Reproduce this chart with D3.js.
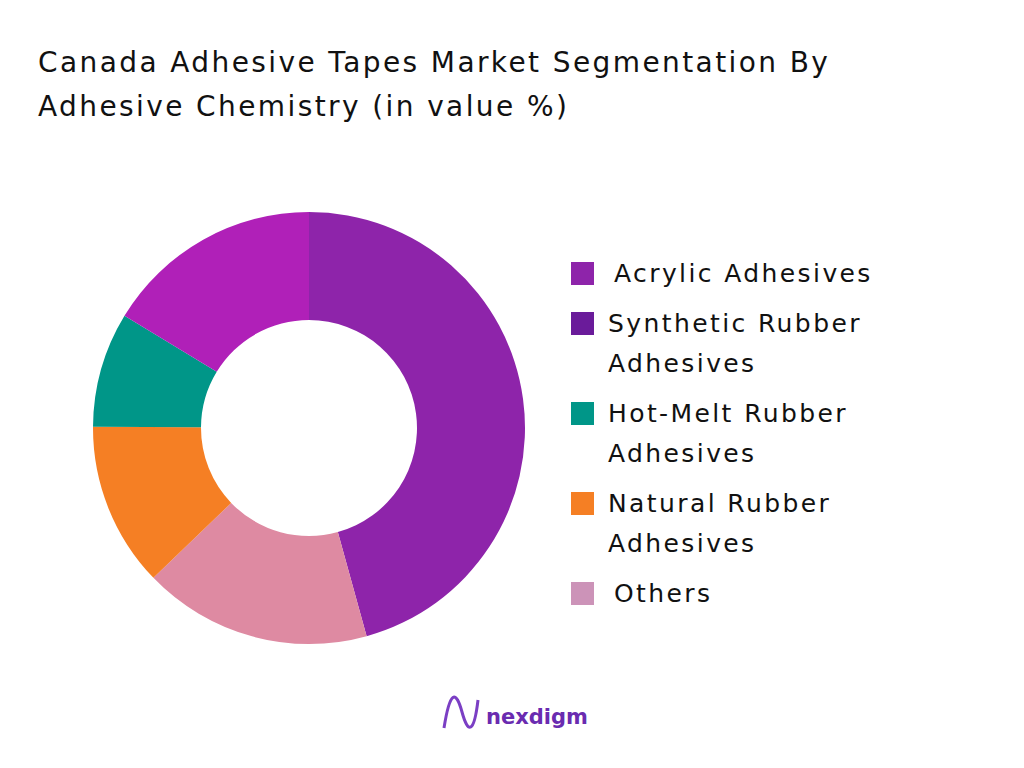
<!DOCTYPE html>
<html><head><meta charset="utf-8">
<script src="https://cdn.jsdelivr.net/npm/d3@7"></script>
<style>body{margin:0;background:#fff;font-family:"DejaVu Sans",sans-serif;}</style>
</head><body>
<svg id="chart" width="1024" height="768"></svg>
<script>
// Slices in drawing order (clockwise from top)
const sliceNames = ["Acrylic Adhesives", "Others", "Natural Rubber Adhesives", "Hot-Melt Rubber Adhesives", "Synthetic Rubber Adhesives"];
const sliceValues = [45.7, 17.1, 12.3, 8.6, 16.3];
const sliceColors = ["#8e24aa", "#de8aa2", "#f57f24", "#009688", "#b020b8"];

// Legend
const legendLines = [["Acrylic Adhesives"], ["Synthetic Rubber", "Adhesives"], ["Hot-Melt Rubber", "Adhesives"], ["Natural Rubber", "Adhesives"], ["Others"]];
const legendColors = ["#8e24aa", "#6a1b9a", "#009688", "#f57f24", "#cc93b8"];

const svg = d3.select("#chart");

const title = ["Canada Adhesive Tapes Market Segmentation By", "Adhesive Chemistry (in value %)"];
title.forEach((t, i) => {
  svg.append("text").attr("x", 38).attr("y", 72 + i * 44).attr("font-size", 28)
    .attr("letter-spacing", 2.4).attr("fill", "#111").text(t);
});

const pie = d3.pie().sort(null).value(d => d)(sliceValues);
const arc = d3.arc().innerRadius(108).outerRadius(216);
const g = svg.append("g").attr("transform", "translate(309,428)");
g.selectAll("path").data(pie).enter().append("path")
  .attr("d", arc).attr("fill", (d, i) => sliceColors[i]);

// Legend
const rowY = [272, 322, 412, 502, 592];
const lg = svg.append("g");
legendLines.forEach((lines, i) => {
  lg.append("rect").attr("x", 571).attr("y", rowY[i] - 10).attr("width", 23).attr("height", 23)
    .attr("fill", legendColors[i]);
  lines.forEach((t, j) => {
    lg.append("text").attr("x", i === 0 || i === 4 ? 614 : 608).attr("y", rowY[i] + 10 + j * 40)
      .attr("font-size", 25).attr("letter-spacing", 2.4).attr("fill", "#111").text(t);
  });
});

// Brand
svg.append("text").attr("x", 486).attr("y", 724).attr("font-size", 21).attr("font-weight", "bold")
  .attr("fill", "#6a2bb0").text("nexdigm");
svg.append("path").attr("d", "M444,728 C450,690 456,690 462,712 C468,734 474,734 478,700")
  .attr("fill", "none").attr("stroke", "#7b3fc4").attr("stroke-width", 3);
</script>
</body></html>
